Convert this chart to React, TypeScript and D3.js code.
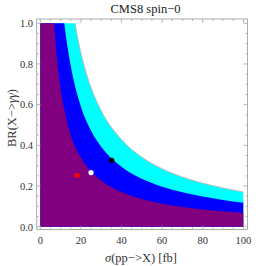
import React, { useEffect, useRef } from "react";
import * as d3 from "d3";

// boundaries (sigma in fb, BR)
const purpleSigma = [6.8, 8, 10, 12, 15, 20, 25, 30, 40, 50, 60, 70, 80, 90, 100];
const purpleBR = [1.0, 0.85, 0.68, 0.57, 0.45, 0.34, 0.272, 0.227, 0.17, 0.136, 0.113, 0.097, 0.085, 0.076, 0.068];

const blueSigma = [11.8, 13, 15, 20, 25, 30, 40, 50, 60, 70, 80, 90, 100];
const blueBR = [1.0, 0.91, 0.79, 0.59, 0.472, 0.393, 0.295, 0.236, 0.197, 0.169, 0.148, 0.131, 0.118];

const cyanSigma = [17.1, 19, 22, 25, 30, 40, 50, 60, 70, 80, 90, 100];
const cyanBR = [1.0, 0.9, 0.777, 0.684, 0.57, 0.428, 0.342, 0.285, 0.244, 0.214, 0.19, 0.171];

// benchmark points
const pointSigma = [18.1, 25, 35.2];
const pointBR = [0.253, 0.266, 0.326];
const pointColors = ["#ff0000", "#ffffff", "#000000"];

const xTicks = [0, 20, 40, 60, 80, 100];
const yTicks = [0, 0.2, 0.4, 0.6, 0.8, 1.0];

export default function App() {
    const ref = useRef<SVGSVGElement>(null);

    useEffect(() => {
        const svg = d3.select(ref.current);
        svg.selectAll("*").remove();

        const frame = { left: 36.7, right: 247.5, top: 19, bottom: 229.5 };
        const x = d3.scaleLinear().domain([0, 100]).range([40.3, 243.3]);
        const y = d3.scaleLinear().domain([0, 1]).range([226.7, 23.3]);

        const area = d3.line<[number, number]>()
            .x(d => x(d[0]))
            .y(d => y(d[1]))
            .curve(d3.curveMonotoneX);

        const region = (sig: number[], br: number[]) => {
            const pts: [number, number][] = sig.map((s, i) => [s, br[i]]);
            return "M" + x(0) + "," + y(0) + "L" + x(0) + "," + y(1) + "L" + area(pts)!.slice(1) +
                "L" + x(100) + "," + y(0) + "Z";
        };

        const g = svg.append("g");
        g.append("path").attr("d", region(cyanSigma, cyanBR)).attr("fill", "#00ffff");
        g.append("path")
            .attr("d", area(cyanSigma.map((s, i) => [s, cyanBR[i]] as [number, number])))
            .attr("fill", "none").attr("stroke", "#bbbbbb").attr("stroke-width", 1);
        g.append("path").attr("d", region(blueSigma, blueBR)).attr("fill", "#0000ff");
        g.append("path").attr("d", region(purpleSigma, purpleBR)).attr("fill", "#800080");

        // frame
        svg.append("rect")
            .attr("x", frame.left).attr("y", frame.top)
            .attr("width", frame.right - frame.left).attr("height", frame.bottom - frame.top)
            .attr("fill", "none").attr("stroke", "#999").attr("stroke-width", 0.8);

        const ticks = svg.append("g").attr("stroke", "#999").attr("stroke-width", 0.7);
        d3.range(0, 101, 5).forEach(v => {
            const len = v % 20 === 0 ? 4 : 2;
            ticks.append("line").attr("x1", x(v)).attr("x2", x(v)).attr("y1", frame.bottom).attr("y2", frame.bottom - len);
            ticks.append("line").attr("x1", x(v)).attr("x2", x(v)).attr("y1", frame.top).attr("y2", frame.top + len);
        });
        d3.range(0, 21).forEach(i => {
            const v = i * 0.05;
            const len = i % 4 === 0 ? 4 : 2;
            ticks.append("line").attr("y1", y(v)).attr("y2", y(v)).attr("x1", frame.left).attr("x2", frame.left + len);
            ticks.append("line").attr("y1", y(v)).attr("y2", y(v)).attr("x1", frame.right).attr("x2", frame.right - len);
        });

        const font = "'Liberation Serif', 'DejaVu Serif', serif";
        svg.append("g").selectAll("text").data(xTicks).join("text")
            .attr("x", d => x(d)).attr("y", 244)
            .attr("text-anchor", "middle").attr("font-family", font).attr("font-size", 10.5)
            .attr("fill", "#333").text(d => d);
        svg.append("g").selectAll("text").data(yTicks).join("text")
            .attr("x", 33).attr("y", d => y(d) + 3.8)
            .attr("text-anchor", "end").attr("font-family", font).attr("font-size", 10.5)
            .attr("fill", "#333").text(d => d.toFixed(1));

        // points
        svg.append("g").selectAll("circle").data(pointSigma).join("circle")
            .attr("cx", d => x(d)).attr("cy", (d, i) => y(pointBR[i]))
            .attr("r", 2.6).attr("fill", (d, i) => pointColors[i]);

        // title
        svg.append("text").attr("x", 145.5).attr("y", 12.7).attr("text-anchor", "middle")
            .attr("font-family", font).attr("font-size", 12.5).attr("fill", "#222")
            .text("CMS8 spin\u22120");

        const xl = svg.append("text").attr("x", 141).attr("y", 261.5).attr("text-anchor", "middle")
            .attr("font-family", font).attr("font-size", 12.5).attr("fill", "#333");
        xl.append("tspan").attr("font-style", "italic").text("\u03c3");
        xl.append("tspan").text("(pp\u2212>X) [fb]");

        const yl = svg.append("text").attr("transform", "translate(15.5,118) rotate(-90)")
            .attr("text-anchor", "middle")
            .attr("font-family", font).attr("font-size", 12.5).attr("fill", "#333");
        yl.append("tspan").text("BR(X\u2212>");
        yl.append("tspan").attr("font-style", "italic").text("\u03b3\u03b3");
        yl.append("tspan").text(")");
    }, []);

    return (
        <svg ref={ref} width={266} height={266}
            style={{ position: "absolute", left: 0, top: 0, background: "#fff" }} />
    );
}
